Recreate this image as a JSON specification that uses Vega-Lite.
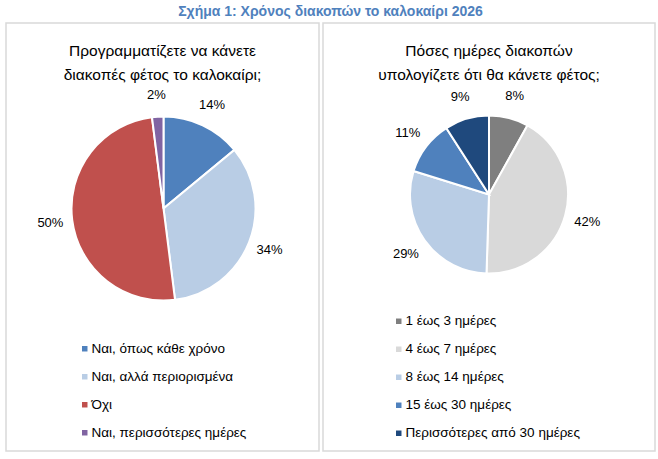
{
  "$schema": "https://vega.github.io/schema/vega-lite/v6.json",
  "padding": {"left": 5, "top": 4, "right": 0, "bottom": 0},
  "title": {
    "text": "Σχήμα 1: Χρόνος διακοπών το καλοκαίρι 2026",
    "font": "Liberation Sans",
    "fontSize": 14,
    "fontWeight": "bold",
    "color": "#4F81BD",
    "anchor": "middle",
    "offset": 3.5
  },
  "spacing": 2,
  "datasets": {
    "plans": [
      {"answer": "Ναι, όπως κάθε χρόνο", "value": 14, "order": 1},
      {"answer": "Ναι, αλλά περιορισμένα", "value": 34, "order": 2},
      {"answer": "Όχι", "value": 50, "order": 3},
      {"answer": "Ναι, περισσότερες ημέρες", "value": 2, "order": 4}
    ],
    "days": [
      {"answer": "1 έως 3 ημέρες", "value": 8, "order": 1},
      {"answer": "4 έως 7 ημέρες", "value": 42, "order": 2},
      {"answer": "8 έως 14 ημέρες", "value": 29, "order": 3},
      {"answer": "15 έως 30 ημέρες", "value": 11, "order": 4},
      {"answer": "Περισσότερες από 30 ημέρες", "value": 9, "order": 5}
    ],
    "frame": [{}]
  },
  "hconcat": [
    {
      "width": 313,
      "height": 428,
      "title": {
        "text": ["Προγραμματίζετε να κάνετε", "διακοπές φέτος το καλοκαίρι;"],
        "offset": -61
      },
      "layer": [
        {
          "data": {"name": "frame"},
          "mark": {"type": "rect", "filled": false, "color": "#d9d9d9", "strokeWidth": 1.5},
          "encoding": {
            "x": {"value": 0},
            "x2": {"value": "width"},
            "y": {"value": 0},
            "y2": {"value": "height"}
          }
        },
        {
          "data": {"name": "plans"},
          "mark": {"type": "arc", "radius": 92, "y": 185.5, "x": 157.5, "stroke": "#ffffff", "strokeWidth": 2},
          "encoding": {
            "theta": {"field": "value", "type": "quantitative", "stack": true},
            "order": {"field": "order", "type": "quantitative"},
            "color": {
              "field": "answer",
              "type": "nominal",
              "scale": {
                "domain": ["Ναι, όπως κάθε χρόνο", "Ναι, αλλά περιορισμένα", "Όχι", "Ναι, περισσότερες ημέρες"],
                "range": ["#4F81BD", "#B9CDE5", "#C0504D", "#8064A2"]
              },
              "legend": {"orient": "none", "legendX": 72, "legendY": 319}
            }
          }
        },
        {
          "data": {"name": "plans"},
          "transform": [{"calculate": "datum.value + '%'", "as": "label"}],
          "mark": {"type": "text", "radius": 114, "y": 185.5, "x": 157.5},
          "encoding": {
            "theta": {"field": "value", "type": "quantitative", "stack": true},
            "order": {"field": "order", "type": "quantitative"},
            "text": {"field": "label"}
          }
        }
      ]
    },
    {
      "width": 332,
      "height": 428,
      "title": {
        "text": ["Πόσες ημέρες διακοπών", "υπολογίζετε ότι θα κάνετε φέτος;"],
        "offset": -61
      },
      "layer": [
        {
          "data": {"name": "frame"},
          "mark": {"type": "rect", "filled": false, "color": "#d9d9d9", "strokeWidth": 1.5},
          "encoding": {
            "x": {"value": 0},
            "x2": {"value": "width"},
            "y": {"value": 0},
            "y2": {"value": "height"}
          }
        },
        {
          "data": {"name": "days"},
          "mark": {"type": "arc", "radius": 79, "y": 171.5, "stroke": "#ffffff", "strokeWidth": 2},
          "encoding": {
            "theta": {"field": "value", "type": "quantitative", "stack": true},
            "order": {"field": "order", "type": "quantitative"},
            "color": {
              "field": "answer",
              "type": "nominal",
              "scale": {
                "domain": ["1 έως 3 ημέρες", "4 έως 7 ημέρες", "8 έως 14 ημέρες", "15 έως 30 ημέρες", "Περισσότερες από 30 ημέρες"],
                "range": ["#7F7F7F", "#D9D9D9", "#B9CDE5", "#4F81BD", "#1F497D"]
              },
              "legend": {"orient": "none", "legendX": 69, "legendY": 291.5}
            }
          }
        },
        {
          "data": {"name": "days"},
          "transform": [{"calculate": "datum.value + '%'", "as": "label"}],
          "mark": {"type": "text", "radius": 102, "y": 171.5},
          "encoding": {
            "theta": {"field": "value", "type": "quantitative", "stack": true},
            "order": {"field": "order", "type": "quantitative"},
            "text": {"field": "label"}
          }
        }
      ]
    }
  ],
  "resolve": {"scale": {"color": "independent", "theta": "independent"}, "legend": {"color": "independent"}},
  "config": {
    "background": "#ffffff",
    "view": {"stroke": null},
    "title": {
      "font": "Liberation Sans",
      "fontSize": 15.5,
      "fontWeight": "normal",
      "color": "#000000",
      "lineHeight": 24,
      "anchor": "middle"
    },
    "text": {"font": "Liberation Sans", "fontSize": 13, "color": "#000000", "align": "center", "baseline": "middle"},
    "legend": {
      "title": null,
      "symbolType": "square",
      "symbolSize": 30,
      "symbolStrokeWidth": 0,
      "labelFont": "Liberation Sans",
      "labelFontSize": 13.5,
      "labelColor": "#000000",
      "labelOffset": 0,
      "labelLimit": 300,
      "rowPadding": 13
    }
  }
}
